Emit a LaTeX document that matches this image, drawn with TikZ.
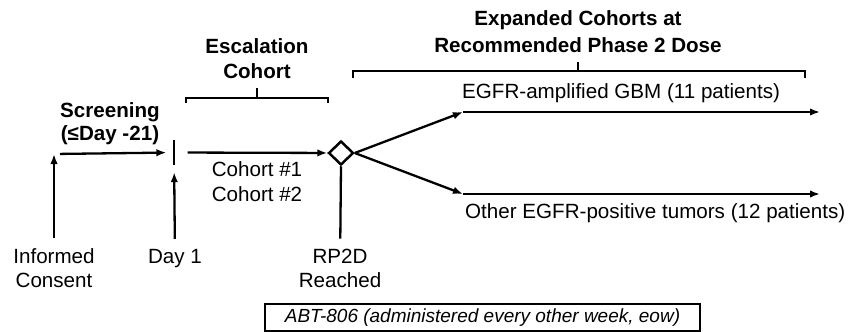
\documentclass[tikz,border=0pt]{standalone}
\usepackage{fontspec}
\setmainfont{Liberation Sans}
\usetikzlibrary{arrows.meta}
\usetikzlibrary{shapes.geometric}
\usetikzlibrary{positioning}

\tikzset{
    txt/.style={inner sep=0pt, font=\fontsize{20.6}{24}\selectfont, align=center},
    head/.style={txt, font=\fontsize{20.6}{25}\selectfont\bfseries},
    foot/.style={txt, outer ysep=10pt},
    arr/.style={line width=2.3pt, -{Latex[length=10pt,width=7.5pt]}},
    brk/.style={line width=2.3pt}
}

\begin{document}
\begin{tikzpicture}[x=1pt, y=-1pt]
    \useasboundingbox (0,0) rectangle (860,332);

    % time points (base = last line)
    \node [foot, anchor=base] (consent) at (54,287) {Informed\\Consent};
    \node [foot, anchor=base] (day) at (175,263) {Day 1};
    \node [foot, anchor=base] (reached) at (340,287) {RP2D\\Reached};
    \node [fill=black, inner sep=0pt, minimum width=2.8pt, minimum height=25pt] (bar) at (174,152.5) {};
    \node [draw, diamond, line width=2.5pt, inner sep=0pt, minimum width=25pt, minimum height=24pt] (rp2d) at (341,153) {};
    \coordinate (s0) at (54,154);
    \coordinate (up) at (463,112);
    \coordinate (dn) at (463,194);
    \coordinate (upend) at (820,112);
    \coordinate (dnend) at (820,194);

    % headers
    \node [head, font=\fontsize{20.6}{23}\selectfont\bfseries, anchor=base] (screening) at (110,140) {Screening\\(≤Day -21)};
    \node [head, anchor=base] (escalation) at (257,78) {Escalation\\Cohort};
    \node [head, anchor=base, font=\fontsize{20.6}{27}\selectfont\bfseries] (expanded) at (578,52) {Expanded Cohorts at\\Recommended Phase 2 Dose};
    \node [txt, font=\fontsize{20.6}{25}\selectfont, anchor=base] (cohorts) at (257,201) {Cohort \#1\\Cohort \#2};
    \node [txt, anchor=base west] (gbm) at (462,98) {EGFR-amplified GBM (11 patients)};
    \node [txt, anchor=base west] (other) at (465,218) {Other EGFR-positive tumors (12 patients)};
    \node [draw, line width=2.3pt, inner sep=0pt, minimum width=435pt, minimum height=27pt, font=\fontsize{19}{22}\selectfont\itshape] (drug) at (482.5,317.5) {ABT-806 (administered every other week, eow)};

    % brackets
    \draw [brk] (186,103) |- (328,98) -- (328,103);
    \draw [brk] (257,98) -- (257,88);
    \draw [brk] (353,78) |- (805,71) -- (805,78);
    \draw [brk] (578,71) -- (578,62);

    % timeline
    \draw [arr] (consent) -- (s0);
    \draw [arr, shorten <=6pt, shorten >=6pt] (s0) -- (bar);
    \draw [arr, shorten >=7pt] (day) -- (bar);
    \draw [arr, shorten <=12pt] (bar) -- (rp2d);
    \draw [brk] (rp2d.south) -- (reached);
    \draw [arr] (rp2d.east) -- (up);
    \draw [arr] (rp2d.east) -- (dn);
    \draw [arr] (up) -- (upend);
    \draw [arr] (dn) -- (dnend);
\end{tikzpicture}
\end{document}
